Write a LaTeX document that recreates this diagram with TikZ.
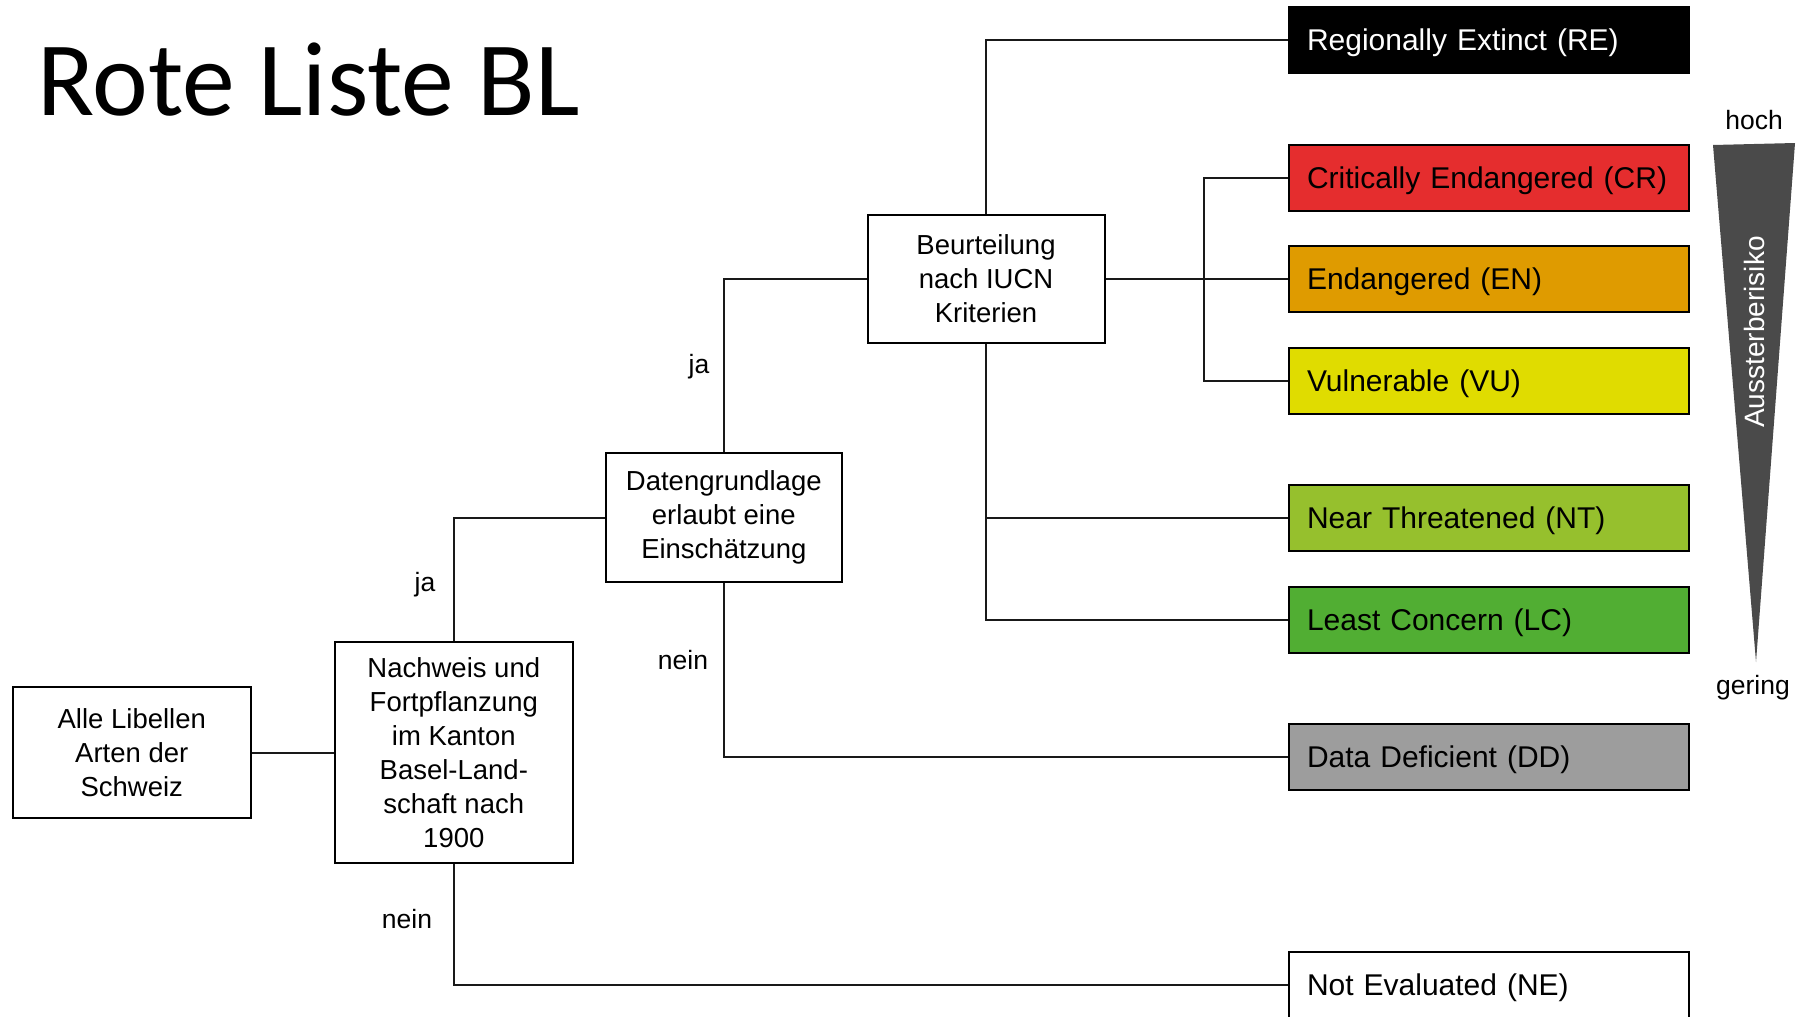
\documentclass[tikz,border=0pt]{standalone}
\usepackage{fontspec}
\setmainfont{Liberation Sans}
\newfontfamily\titlefont{Carlito}
\usetikzlibrary{positioning}
\usetikzlibrary{calc}

\definecolor{catRE}{HTML}{000000}
\definecolor{catCR}{HTML}{E52D2E}
\definecolor{catEN}{HTML}{DF9B00}
\definecolor{catVU}{HTML}{E0DC00}
\definecolor{catNT}{HTML}{96C02D}
\definecolor{catLC}{HTML}{51AE33}
\definecolor{catDD}{HTML}{9D9D9D}
\definecolor{catNE}{HTML}{FFFFFF}
\definecolor{risk}{HTML}{4A4A4A}

\begin{document}
\begin{tikzpicture}[x=1pt,y=-1pt,
  font=\fontsize{26.5}{34}\selectfont,
  box/.style={draw=black,line width=2pt,fill=white,align=center,
    minimum width=238pt,inner sep=0pt,font=\fontsize{27.5}{34}\selectfont},
  cat/.style={draw=black,line width=2.2pt,text width=364pt,inner xsep=18pt,
    inner ysep=0pt,minimum height=66pt,text height=21pt,text depth=0pt,
    align=left,font=\fontsize{30}{34}\selectfont},
  conn/.style={draw=black!90,line width=2pt},
  lbl/.style={inner sep=0pt}]

\useasboundingbox (0,0) rectangle (1799,1017);

% title
\node[anchor=base west,inner sep=0pt,font=\titlefont\fontsize{105.6}{110}\selectfont]
  (titel) at (37,115) {Rote Liste BL};

% decision boxes
\node[box,minimum height=131pt] (alle) at (131.8,752.5) {Alle Libellen\\Arten der\\Schweiz};
\node[box,minimum height=221pt] (nachweis) at (453.8,752.5)
  {Nachweis und\\Fortpflanzung\\im Kanton\\Basel-Land-\\schaft nach\\1900};
\node[box,minimum height=129pt,minimum width=236pt] (daten) at (723.8,517.5)
  {Datengrundlage\\erlaubt eine\\Einschätzung};
\node[box,minimum height=128pt,minimum width=237pt] (beurt) at (986,279)
  {Beurteilung\\nach IUCN\\Kriterien};

% categories
\foreach \id/\y/\col/\fg/\txt in {
    re/40/catRE/white/Regionally Extinct (RE),
    cr/178/catCR/black/Critically Endangered (CR),
    en/279/catEN/black/Endangered (EN),
    vu/381/catVU/black/Vulnerable (VU),
    nt/518/catNT/black/Near Threatened (NT),
    lc/620/catLC/black/Least Concern (LC),
    dd/757/catDD/black/Data Deficient (DD),
    ne/985/catNE/black/Not Evaluated (NE)}
  \node[cat,fill=\col,text=\fg] (\id) at (1489,\y) {\txt};

% connectors
\draw[conn] (alle) -- (nachweis);
\draw[conn] (nachweis) |- (daten);
\draw[conn] (nachweis) |- (ne);
\draw[conn] (daten) |- (beurt);
\draw[conn] (daten) |- (dd);
\draw[conn] (beurt) |- (re);
\draw[conn] (beurt) -- (en);
\coordinate (fork) at (1204,279);
\draw[conn] (cr) -| (fork) |- (vu);
\draw[conn] (beurt) |- (nt);
\draw[conn] (beurt) |- (lc);

\node[lbl] (ja1) at (425,585) {ja};
\node[lbl] (nein1) at (407,919) {nein};
\node[lbl] (ja2) at (699,367) {ja};
\node[lbl] (nein2) at (683,660) {nein};

% risk wedge
\fill[risk] (1713,145) -- (1795,143) -- (1756,662) -- cycle;
\node[lbl,rotate=90,text=white,font=\fontsize{28}{30}\selectfont] (risiko) at (1754,332) {Aussterberisiko};
\node[lbl] (hoch) at (1754,120) {hoch};
\node[lbl] (gering) at (1753,688) {gering};

\end{tikzpicture}
\end{document}
